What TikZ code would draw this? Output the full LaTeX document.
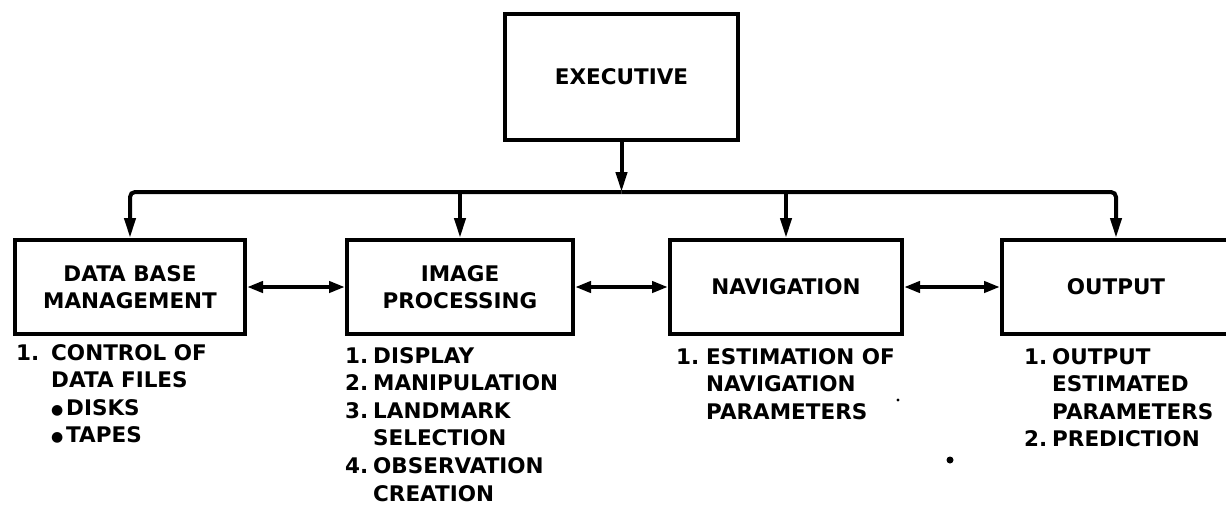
\documentclass[tikz,border=0pt]{standalone}
\usepackage{fontspec}
\newfontfamily\dfont{DejaVu Sans}[UprightFont=* Bold]
\usetikzlibrary{arrows.meta,calc}
\newcommand{\blt}{\makebox[15pt][l]{\raisebox{1pt}{\fontsize{14}{14}\selectfont ●}}}
\begin{document}
\begin{tikzpicture}[x=1pt,y=-1pt,
  every node/.style={font=\dfont\fontsize{21.5}{27}\selectfont},
  box/.style={draw, line width=4pt, rectangle, inner sep=0pt, align=center},
  conn/.style={line width=4pt},
  arr/.style={conn, -{Triangle[length=20pt,width=11pt]}},
  dbl/.style={conn, {Triangle[length=16pt,width=11pt]}-{Triangle[length=16pt,width=11pt]}},
  lst/.style={anchor=base west, inner sep=0pt, font=\dfont\fontsize{21.5}{27.6}\selectfont}
]
\useasboundingbox (0,0) rectangle (1226,512);
\fill[white] (0,0) rectangle (1226,512);

% boxes
\node[box, minimum width=233pt, minimum height=126pt] (ex) at (621.5,77) {EXECUTIVE};
\node[box, minimum width=230pt, minimum height=94pt] (b1) at (130,287) {DATA BASE\\MANAGEMENT};
\node[box, minimum width=226pt, minimum height=94pt] (b2) at (460,287) {IMAGE\\PROCESSING};
\node[box, minimum width=232pt, minimum height=94pt] (b3) at (786,287) {NAVIGATION};
\node[box, minimum width=228pt, minimum height=94pt] (b4) at (1116,287) {OUTPUT};

\coordinate (bus) at (621.5,192);

% tree connectors
\draw[arr] (ex.south) -- (bus);
\draw[arr, rounded corners=5pt] (bus) -| (b1.north);
\draw[arr, rounded corners=5pt] (bus) -| (b4.north);
\draw[arr] (bus -| b2.north) -- (b2.north);
\draw[arr] (bus -| b3.north) -- (b3.north);

% horizontal double arrows
\draw[dbl] (b1.east) -- (b2.west);
\draw[dbl] (b2.east) -- (b3.west);
\draw[dbl] (b3.east) -- (b4.west);

% lists
\node[lst] (l1) at (16,360) {\begin{tabular}[t]{@{}l@{}l@{}}
\makebox[35pt][l]{1.} & CONTROL OF\\
 & DATA FILES\\
 & \blt DISKS\\
 & \blt TAPES
\end{tabular}};

\node[lst] (l2) at (345,363) {\begin{tabular}[t]{@{}l@{}l@{}}
\makebox[28pt][l]{1.} & DISPLAY\\
\makebox[28pt][l]{2.} & MANIPULATION\\
\makebox[28pt][l]{3.} & LANDMARK\\
 & SELECTION\\
\makebox[28pt][l]{4.} & OBSERVATION\\
 & CREATION
\end{tabular}};

\node[lst] (l3) at (676,364) {\begin{tabular}[t]{@{}l@{}l@{}}
\makebox[30pt][l]{1.} & ESTIMATION OF\\
 & NAVIGATION\\
 & PARAMETERS
\end{tabular}};

\node[lst] (l4) at (1024,364) {\begin{tabular}[t]{@{}l@{}l@{}}
\makebox[28pt][l]{1.} & OUTPUT\\
 & ESTIMATED\\
 & PARAMETERS\\
\makebox[28pt][l]{2.} & PREDICTION
\end{tabular}};

% specks
\fill (898,400) circle (1.6pt);
\fill (950,460) circle (3.5pt);
\end{tikzpicture}
\end{document}
